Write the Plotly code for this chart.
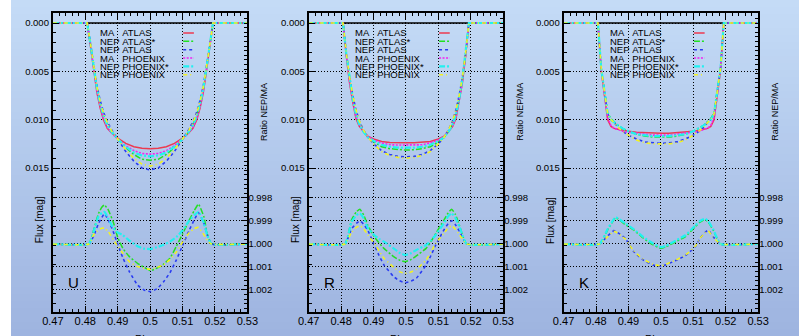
import plotly.graph_objects as go

# ---------------- data ----------------
PANELS = ["U", "R", "K"]
X_TICKS = [0.47, 0.48, 0.49, 0.50, 0.51, 0.52, 0.53]
X_TICK_TEXT = ["0.47", "0.48", "0.49", "0.5", "0.51", "0.52", "0.53"]
FLUX_TICKS = [0.000, 0.005, 0.010, 0.015]
FLUX_TICK_TEXT = ["0.000", "0.005", "0.010", "0.015"]
RATIO_TICKS = [0.998, 0.999, 1.000, 1.001, 1.002]
RATIO_TICK_TEXT = ["0.998", "0.999", "1.000", "1.001", "1.002"]

LEGEND_LABELS = ["MA\u00a0\u00a0\u00a0ATLAS", "NEP\u00a0ATLAS*", "NEP\u00a0ATLAS",
                 "MA\u00a0\u00a0\u00a0PHOENIX", "NEP\u00a0PHOENIX*", "NEP\u00a0PHOENIX"]

CONTACTS = [0.4806, 0.5194]
CONTACT_LEVEL = [0.0, 0.0]

PHASE_FLUX = [0.470, 0.4806, 0.4816, 0.4826, 0.4836, 0.4846, 0.4856, 0.4868, 0.4882, 0.4900,
              0.4925, 0.4950, 0.4975, 0.5000, 0.5025, 0.5050, 0.5075, 0.5100, 0.5118, 0.5132,
              0.5144, 0.5154, 0.5164, 0.5174, 0.5184, 0.5194, 0.530]

# U band light curves [mag]
U_MA_ATLAS = [0, 0, 0.0024, 0.0049, 0.0072, 0.0088, 0.0100, 0.0109, 0.0114, 0.0119, 0.01245, 0.0128, 0.01295, 0.0130,
              0.01295, 0.0128, 0.01245, 0.0119, 0.0114, 0.0109, 0.0100, 0.0088, 0.0072, 0.0049, 0.0024, 0, 0]
U_NEP_ATLAS_S = [0, 0, 0.0022, 0.0046, 0.0068, 0.0083, 0.0095, 0.0105, 0.0113, 0.0120, 0.0129, 0.0136, 0.0141, 0.0142,
                 0.0141, 0.0136, 0.0129, 0.0120, 0.0113, 0.0105, 0.0095, 0.0083, 0.0068, 0.0046, 0.0022, 0, 0]
U_NEP_ATLAS = [0, 0, 0.0021, 0.0044, 0.0065, 0.0080, 0.0092, 0.0102, 0.0111, 0.0120, 0.0133, 0.0143, 0.0150, 0.0152,
               0.0150, 0.0143, 0.0133, 0.0120, 0.0111, 0.0102, 0.0092, 0.0080, 0.0065, 0.0044, 0.0021, 0, 0]
U_MA_PHOENIX = [0, 0, 0.0023, 0.0047, 0.0070, 0.0086, 0.0098, 0.0108, 0.0114, 0.0120, 0.0127, 0.0132, 0.0135, 0.01356,
                0.0135, 0.0132, 0.0127, 0.0120, 0.0114, 0.0108, 0.0098, 0.0086, 0.0070, 0.0047, 0.0023, 0, 0]
U_NEP_PHOENIX_S = [0, 0, 0.0022, 0.0046, 0.0068, 0.0084, 0.0096, 0.0106, 0.0113, 0.0120, 0.0128, 0.0134, 0.0137, 0.0138,
                   0.0137, 0.0134, 0.0128, 0.0120, 0.0113, 0.0106, 0.0096, 0.0084, 0.0068, 0.0046, 0.0022, 0, 0]
U_NEP_PHOENIX = [0, 0, 0.0021, 0.0045, 0.0066, 0.0081, 0.0093, 0.0103, 0.0112, 0.0120, 0.0131, 0.0140, 0.0146, 0.0148,
                 0.0146, 0.0140, 0.0131, 0.0120, 0.0112, 0.0103, 0.0093, 0.0081, 0.0066, 0.0045, 0.0021, 0, 0]

# R band light curves [mag]
R_MA_ATLAS = [0, 0, 0.0034, 0.0062, 0.0082, 0.0099, 0.0107, 0.0112, 0.0117, 0.0120, 0.01225, 0.01235, 0.01239, 0.0124,
              0.01239, 0.01235, 0.01225, 0.0120, 0.0117, 0.0112, 0.0107, 0.0099, 0.0082, 0.0062, 0.0034, 0, 0]
R_NEP_ATLAS_S = [0, 0, 0.0032, 0.0058, 0.0078, 0.0094, 0.0104, 0.0112, 0.0118, 0.0123, 0.0128, 0.0130, 0.0131, 0.01315,
                 0.0131, 0.0130, 0.0128, 0.0123, 0.0118, 0.0112, 0.0104, 0.0094, 0.0078, 0.0058, 0.0032, 0, 0]
R_NEP_ATLAS = [0, 0, 0.0031, 0.0056, 0.0075, 0.0090, 0.0101, 0.0110, 0.0118, 0.0125, 0.0132, 0.0136, 0.0138, 0.01385,
               0.0138, 0.0136, 0.0132, 0.0125, 0.0118, 0.0110, 0.0101, 0.0090, 0.0075, 0.0056, 0.0031, 0, 0]
R_MA_PHOENIX = [0, 0, 0.0033, 0.0060, 0.0080, 0.0097, 0.0106, 0.0112, 0.0117, 0.0121, 0.0124, 0.0126, 0.01262, 0.01263,
                0.01262, 0.0126, 0.0124, 0.0121, 0.0117, 0.0112, 0.0106, 0.0097, 0.0080, 0.0060, 0.0033, 0, 0]
R_NEP_PHOENIX_S = [0, 0, 0.0032, 0.0058, 0.0079, 0.0095, 0.0105, 0.0112, 0.0118, 0.0122, 0.0126, 0.0128, 0.0129, 0.0129,
                   0.0129, 0.0128, 0.0126, 0.0122, 0.0118, 0.0112, 0.0105, 0.0095, 0.0079, 0.0058, 0.0032, 0, 0]
R_NEP_PHOENIX = [0, 0, 0.0031, 0.0056, 0.0075, 0.0090, 0.0101, 0.0110, 0.0118, 0.0125, 0.0133, 0.0137, 0.0139, 0.0140,
                 0.0139, 0.0137, 0.0133, 0.0125, 0.0118, 0.0110, 0.0101, 0.0090, 0.0075, 0.0056, 0.0031, 0, 0]

# K band light curves [mag]
K_MA_ATLAS = [0, 0, 0.0049, 0.0075, 0.0100, 0.0107, 0.0109, 0.0110, 0.0111, 0.0112, 0.0113, 0.01135, 0.0114, 0.0114,
              0.0114, 0.01135, 0.0113, 0.0112, 0.0111, 0.0110, 0.0109, 0.0107, 0.0100, 0.0075, 0.0049, 0, 0]
K_NEP_ATLAS_S = [0, 0, 0.0047, 0.0072, 0.0093, 0.0099, 0.0102, 0.0106, 0.0109, 0.0112, 0.0115, 0.0117, 0.0118, 0.0118,
                 0.0118, 0.0117, 0.0115, 0.0112, 0.0109, 0.0106, 0.0102, 0.0099, 0.0093, 0.0072, 0.0047, 0, 0]
K_NEP_ATLAS = [0, 0, 0.0047, 0.0072, 0.0094, 0.0100, 0.0103, 0.0108, 0.0112, 0.0116, 0.0120, 0.0123, 0.0124, 0.01245,
               0.0124, 0.0123, 0.0120, 0.0116, 0.0112, 0.0108, 0.0103, 0.0100, 0.0094, 0.0072, 0.0047, 0, 0]
K_MA_PHOENIX = [0, 0, 0.0048, 0.0074, 0.0098, 0.0106, 0.0109, 0.0110, 0.0112, 0.0113, 0.0114, 0.0115, 0.0116, 0.0116,
                0.0116, 0.0115, 0.0114, 0.0113, 0.0112, 0.0110, 0.0109, 0.0106, 0.0098, 0.0074, 0.0048, 0, 0]
K_NEP_PHOENIX_S = [0, 0, 0.0047, 0.0072, 0.0094, 0.0100, 0.0103, 0.0106, 0.0109, 0.0112, 0.0115, 0.0116, 0.0117, 0.0117,
                   0.0117, 0.0116, 0.0115, 0.0112, 0.0109, 0.0106, 0.0103, 0.0100, 0.0094, 0.0072, 0.0047, 0, 0]
K_NEP_PHOENIX = [0, 0, 0.0047, 0.0072, 0.0094, 0.0100, 0.0103, 0.0108, 0.0112, 0.0116, 0.0121, 0.0124, 0.0125, 0.0125,
                 0.0125, 0.0124, 0.0121, 0.0116, 0.0112, 0.0108, 0.0103, 0.0100, 0.0094, 0.0072, 0.0047, 0, 0]

# Ratio NEP/MA curves
PHASE_RATIO_U = [0.470, 0.4811, 0.4826, 0.4841, 0.4851, 0.4859, 0.4871, 0.4886, 0.4901, 0.4916, 0.4936, 0.4961, 0.4981,
                 0.5001, 0.5021, 0.5041, 0.5061, 0.5081, 0.5101, 0.5121, 0.5136, 0.5149, 0.5166, 0.5176, 0.5189, 0.530]
U_RATIO_ATLAS_S = [1.0, 1.0, 0.99939, 0.99867, 0.99840, 0.99830, 0.99852, 0.99903, 0.99975, 1.00019, 1.00055, 1.00084, 1.00101,
                   1.00116, 1.00105, 1.00088, 1.00062, 1.00010, 0.99954, 0.99895, 0.99855, 0.99826, 0.99882, 0.99954, 1.0, 1.0]
U_RATIO_ATLAS = [1.0, 1.0, 0.99965, 0.99910, 0.99885, 0.99868, 0.99895, 0.99945, 1.00005, 1.00060, 1.00120, 1.00178, 1.00200,
                 1.00207, 1.00195, 1.00165, 1.00125, 1.00069, 1.00004, 0.99939, 0.99895, 0.99864, 0.99910, 0.99960, 1.0, 1.0]
U_RATIO_PHOENIX_S = [1.0, 1.0, 0.99945, 0.99880, 0.99865, 0.99860, 0.99890, 0.99930, 0.99951, 0.99962, 0.99985, 1.00010, 1.00020,
                     1.00022, 1.00014, 1.00004, 0.99990, 0.99970, 0.99939, 0.99898, 0.99875, 0.99860, 0.99910, 0.99960, 1.0, 1.0]
U_RATIO_PHOENIX = [1.0, 1.0, 0.99960, 0.99938, 0.99932, 0.99930, 0.99946, 0.99980, 1.00012, 1.00040, 1.00077, 1.00098, 1.00106,
                   1.00110, 1.00102, 1.00091, 1.00068, 1.00035, 0.99990, 0.99950, 0.99933, 0.99928, 0.99960, 0.99985, 1.0, 1.0]

PHASE_RATIO_R = [0.470, 0.4812, 0.4832, 0.4847, 0.4858, 0.4870, 0.4882, 0.4902, 0.4917, 0.4932, 0.4962, 0.4980, 0.4997,
                 0.5015, 0.5032, 0.5062, 0.5077, 0.5092, 0.5117, 0.5130, 0.5141, 0.5152, 0.5165, 0.5187, 0.530]
R_RATIO_ATLAS_S = [1.0, 1.0, 0.99896, 0.99860, 0.99849, 0.99875, 0.99918, 0.99968, 0.99995, 1.00019, 1.00055, 1.00070, 1.00077,
                   1.00068, 1.00052, 1.00019, 0.99990, 0.99954, 0.99896, 0.99865, 0.99849, 0.99870, 0.99920, 1.0, 1.0]
R_RATIO_ATLAS = [1.0, 1.0, 0.99935, 0.99910, 0.99899, 0.99915, 0.99939, 1.00004, 1.00050, 1.00091, 1.00142, 1.00160, 1.00168,
                 1.00162, 1.00149, 1.00091, 1.00050, 1.00004, 0.99939, 0.99912, 0.99899, 0.99915, 0.99945, 1.0, 1.0]
R_RATIO_PHOENIX_S = [1.0, 1.0, 0.99905, 0.99875, 0.99867, 0.99890, 0.99930, 0.99961, 0.99978, 0.99990, 1.00019, 1.00038, 1.00048,
                     1.00040, 1.00026, 1.00005, 0.99985, 0.99961, 0.99910, 0.99880, 0.99867, 0.99885, 0.99925, 1.0, 1.0]
R_RATIO_PHOENIX = [1.0, 1.0, 0.99950, 0.99928, 0.99921, 0.99935, 0.99960, 0.99997, 1.00030, 1.00062, 1.00101, 1.00120, 1.00128,
                   1.00122, 1.00110, 1.00070, 1.00035, 0.99997, 0.99954, 0.99930, 0.99921, 0.99935, 0.99960, 1.0, 1.0]

PHASE_RATIO_K = [0.470, 0.4811, 0.4836, 0.4855, 0.4861, 0.4890, 0.4916, 0.4946, 0.4976, 0.5001, 0.5016, 0.5046, 0.5076,
                 0.5106, 0.5121, 0.5136, 0.5146, 0.5161, 0.5184, 0.530]
K_RATIO_ATLAS_S = [1.0, 1.0, 0.99939, 0.99895, 0.99886, 0.99915, 0.99939, 0.99975, 1.00004, 1.00019, 1.00012, 0.99990, 0.99968,
                   0.99925, 0.99905, 0.99893, 0.99905, 0.99939, 1.0, 1.0]
K_RATIO_ATLAS = [1.0, 1.0, 0.99965, 0.99942, 0.99945, 0.99975, 1.00033, 1.00070, 1.00091, 1.00098, 1.00090, 1.00072, 1.00050,
                 1.00012, 0.99975, 0.99950, 0.99940, 0.99968, 1.0, 1.0]
K_RATIO_PHOENIX_S = [1.0, 1.0, 0.99935, 0.99892, 0.99884, 0.99910, 0.99935, 0.99970, 0.99998, 1.00014, 1.00008, 0.99985, 0.99962,
                     0.99920, 0.99900, 0.99890, 0.99900, 0.99935, 1.0, 1.0]
K_RATIO_PHOENIX = [1.0, 1.0, 0.99968, 0.99945, 0.99948, 0.99978, 1.00030, 1.00066, 1.00088, 1.00095, 1.00088, 1.00070, 1.00048,
                   1.00010, 0.99975, 0.99952, 0.99943, 0.99970, 1.0, 1.0]

FLUX = {
    "U": [U_MA_ATLAS, U_NEP_ATLAS_S, U_NEP_ATLAS, U_MA_PHOENIX, U_NEP_PHOENIX_S, U_NEP_PHOENIX],
    "R": [R_MA_ATLAS, R_NEP_ATLAS_S, R_NEP_ATLAS, R_MA_PHOENIX, R_NEP_PHOENIX_S, R_NEP_PHOENIX],
    "K": [K_MA_ATLAS, K_NEP_ATLAS_S, K_NEP_ATLAS, K_MA_PHOENIX, K_NEP_PHOENIX_S, K_NEP_PHOENIX],
}
RATIO_PHASE = {"U": PHASE_RATIO_U, "R": PHASE_RATIO_R, "K": PHASE_RATIO_K}
RATIO = {  # styles of series index 1, 2, 4, 5
    "U": [U_RATIO_ATLAS_S, U_RATIO_ATLAS, U_RATIO_PHOENIX_S, U_RATIO_PHOENIX],
    "R": [R_RATIO_ATLAS_S, R_RATIO_ATLAS, R_RATIO_PHOENIX_S, R_RATIO_PHOENIX],
    "K": [K_RATIO_ATLAS_S, K_RATIO_ATLAS, K_RATIO_PHOENIX_S, K_RATIO_PHOENIX],
}
RATIO_STYLE_INDEX = [1, 2, 4, 5]

# ---------------- styling ----------------
W, H = 810, 336
COLORS = ["#ec3a50", "#22e022", "#2a3cf2", "#f222f2", "#22f0f0", "#f2f222"]
DASHES = ["solid", "6px,2px,2px,2px", "3px,3px", "2px,1.5px", "6px,2px,2px,2px", "4px,3px,1px,3px"]
WIDTHS = [1.5, 1.5, 1.6, 1.6, 2.2, 1.6]

PANEL_LEFT = [43, 306, 568]
PANEL_W = 200
PLOT_TOP, PLOT_BOTTOM = 13, 312
FLUX_RANGE = [0.029896, -0.001034]
RATIO_RANGE = [1.002957, 0.989957]

FONT = "Liberation Sans, Arial, sans-serif"


def px(x):
    return x / W


def py(y):
    return 1 - y / H


fig = go.Figure()
layout = dict(
    width=W, height=H, margin=dict(l=0, r=0, t=0, b=0),
    paper_bgcolor="rgba(0,0,0,0)", plot_bgcolor="rgba(0,0,0,0)",
    showlegend=False, font=dict(family=FONT, color="black"),
)

shapes = []
# background gradient
top_c = (196, 219, 246)
bot_c = (158, 180, 224)
n = 48
for k in range(n):
    t = k / (n - 1)
    c = tuple(round(top_c[j] + (bot_c[j] - top_c[j]) * t) for j in range(3))
    shapes.append(dict(type="rect", xref="paper", yref="paper", layer="below",
                       x0=0, x1=1, y0=1 - (k + 1) / n - 0.002, y1=1 - k / n,
                       fillcolor="rgb(%d,%d,%d)" % c, line=dict(width=0)))

annotations = []
grid_dash = "1px,2px"

for i, band in enumerate(PANELS):
    L = PANEL_LEFT[i]
    R = L + PANEL_W
    xn = "x" if i == 0 else f"x{i+1}"
    yl = 2 * i + 1
    yr = 2 * i + 2
    yln = "y" if yl == 1 else f"y{yl}"
    yrn = f"y{yr}"
    xkey = "xaxis" if i == 0 else f"xaxis{i+1}"

    layout[xkey] = dict(
        domain=[px(L), px(R)], anchor=yln, range=[0.47, 0.53],
        tickvals=X_TICKS, ticktext=X_TICK_TEXT, ticks="inside", ticklen=6, tickwidth=1,
        tickcolor="black", showline=True, linewidth=2, linecolor="black", mirror="ticks",
        showgrid=True, gridcolor="black", gridwidth=1, griddash=grid_dash, zeroline=False,
        tickfont=dict(size=11, family=FONT, color="black"), ticklabelstandoff=-2,
        minor=dict(tickmode="linear", tick0=0.47, dtick=0.002, ticks="inside", ticklen=3,
                   tickcolor="black", showgrid=False),
    )
    layout["yaxis" if yl == 1 else f"yaxis{yl}"] = dict(
        domain=[py(PLOT_BOTTOM), py(PLOT_TOP)], anchor=xn, range=FLUX_RANGE,
        tickvals=FLUX_TICKS, ticktext=FLUX_TICK_TEXT, ticks="inside", ticklen=6,
        tickcolor="black", showline=True, linewidth=2, linecolor="black", mirror=True,
        showgrid=True, gridcolor="black", gridwidth=1, griddash=grid_dash, zeroline=False,
        tickfont=dict(size=9.5, family=FONT, color="black"),
        minor=dict(tickmode="linear", tick0=0, dtick=0.001, ticks="inside", ticklen=3,
                   tickcolor="black", showgrid=False),
    )
    layout[f"yaxis{yr}"] = dict(
        overlaying=yln, side="right", anchor=xn, range=RATIO_RANGE,
        tickvals=RATIO_TICKS, ticktext=RATIO_TICK_TEXT, ticks="inside", ticklen=6,
        tickcolor="black", showline=False, zeroline=False,
        showgrid=True, gridcolor="black", gridwidth=1, griddash=grid_dash,
        tickfont=dict(size=9.5, family=FONT, color="black"),
        minor=dict(tickmode="linear", tick0=0.99, dtick=0.0002, ticks="inside", ticklen=3,
                   tickcolor="black", showgrid=False),
    )

    # black line between contacts
    fig.add_trace(go.Scatter(x=CONTACTS, y=CONTACT_LEVEL, mode="lines", xaxis=xn, yaxis=yln,
                             line=dict(color="black", width=1.5), hoverinfo="skip"))
    # light curves
    for s, series in enumerate(FLUX[band]):
        fig.add_trace(go.Scatter(x=PHASE_FLUX, y=series, mode="lines", xaxis=xn, yaxis=yln,
                                 name=LEGEND_LABELS[s],
                                 line=dict(color=COLORS[s], dash=DASHES[s], width=WIDTHS[s])))
    # ratio curves
    for r, series in enumerate(RATIO[band]):
        s = RATIO_STYLE_INDEX[r]
        fig.add_trace(go.Scatter(x=RATIO_PHASE[band], y=series, mode="lines", xaxis=xn, yaxis=yrn,
                                 line=dict(color=COLORS[s], dash=DASHES[s], width=WIDTHS[s],
                                           shape="spline", smoothing=0.4)))

    # legend (gnuplot style, text then sample)
    for s, lab in enumerate(LEGEND_LABELS):
        yc = 33 + s * 8.35
        annotations.append(dict(xref="paper", yref="paper", x=px(L + 47), y=py(yc),
                                xanchor="left", yanchor="middle", text=lab, showarrow=False,
                                borderpad=0, font=dict(size=9.5, family=FONT, color="black")))
        shapes.append(dict(type="line", xref="paper", yref="paper",
                           x0=px(L + 134), x1=px(L + 145), y0=py(yc), y1=py(yc),
                           line=dict(color=COLORS[s], dash=DASHES[s], width=WIDTHS[s])))

    # panel letter
    annotations.append(dict(xref="paper", yref="paper", x=px(L + 21), y=py(282),
                            xanchor="center", yanchor="middle", text=band, showarrow=False,
                            font=dict(size=15, family=FONT, color="black")))
    # axis titles
    annotations.append(dict(xref="paper", yref="paper", x=px(L - 14), y=py(220),
                            xanchor="center", yanchor="middle", text="Flux [mag]", textangle=-90,
                            showarrow=False, font=dict(size=10, family=FONT, color="black")))
    annotations.append(dict(xref="paper", yref="paper", x=px(R + 17), y=py(112),
                            xanchor="center", yanchor="middle", text="Ratio NEP/MA", textangle=-90,
                            showarrow=False, font=dict(size=9, family=FONT, color="black")))
    annotations.append(dict(xref="paper", yref="paper", x=px(L + PANEL_W / 2), y=py(331),
                            xanchor="center", yanchor="top", text="Phase", showarrow=False,
                            font=dict(size=11, family=FONT, color="black")))

layout["shapes"] = shapes
layout["annotations"] = annotations
fig.update_layout(**layout)
fig.write_html("out.html",
               config={"displayModeBar": False, "staticPlot": True},
               post_script="document.body.style.margin='0';document.body.style.overflow='hidden';")
